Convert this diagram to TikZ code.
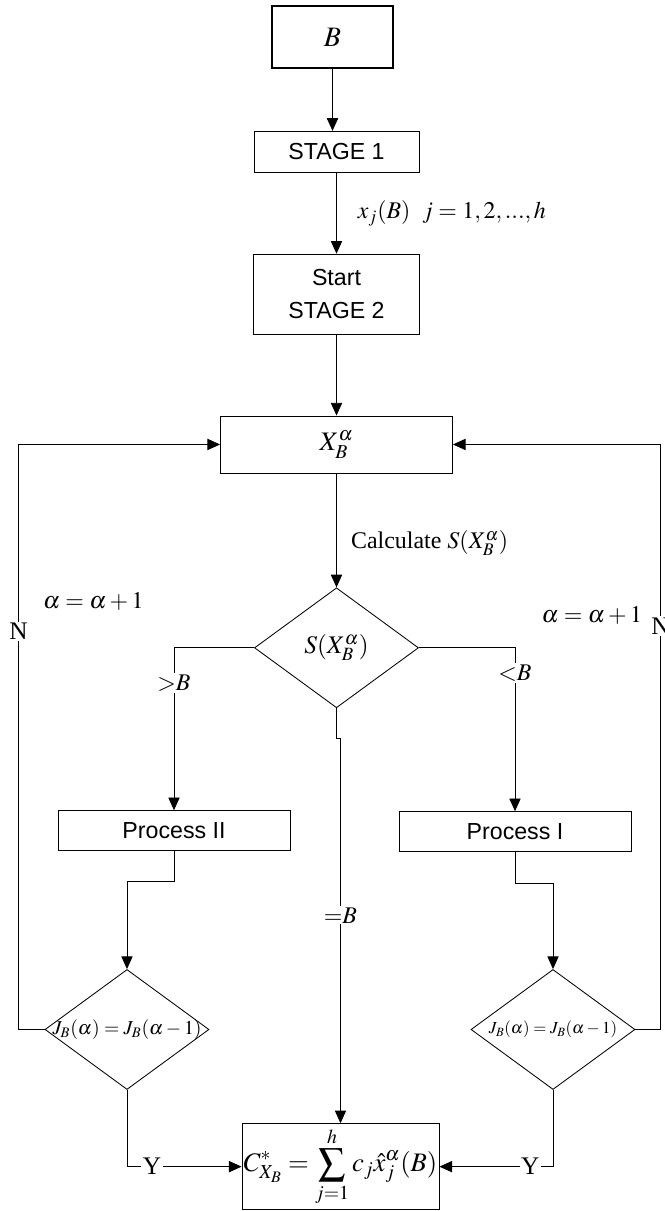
\documentclass[tikz,border=0pt]{standalone}
\usepackage{amsmath}
\usepackage{mathptmx}
\usepackage[no-math]{fontspec}
\setmainfont{Liberation Serif}
\newfontfamily\arialfont{Liberation Sans}
\usetikzlibrary{arrows.meta, shapes.geometric, positioning}

\begin{document}
\begin{tikzpicture}[node distance=1.5cm,
  every node/.style={text=black},
  arr/.style={-{Triangle[length=9pt, width=8pt]}, line width=0.6pt, draw=black},
  procblock/.style={draw, line width=0.6pt, minimum width=4.125cm,
                    minimum height=1.025cm, align=center, inner sep=0pt,
                    font=\arialfont\fontsize{16.5}{19}\selectfont},
  decblock/.style={draw, diamond, line width=0.6pt, minimum width=4.1cm,
                   minimum height=3cm, inner sep=0pt, aspect=1.37},
  cutlbl/.style={fill=white, inner sep=1pt, font=\fontsize{17}{20}\selectfont},
  mathlbl/.style={inner sep=1pt, font=\fontsize{17}{20}\selectfont}]

  \useasboundingbox (-8.3125,0.925) rectangle (8.3125,-29.35);

  %% ═══════════════════════════════════════════════════════════════
  %% STAGE 1 / STAGE 2 COLUMN
  %% ═══════════════════════════════════════════════════════════════

  \node[procblock, line width=1.2pt, minimum width=3.025cm, minimum height=1.55cm,
        font=\fontsize{20}{22}\selectfont] (inB) at (0,0) {$B$};
  \node[procblock, below=1.55cm of inB, xshift=0.1cm] (stage1) {STAGE 1};
  \node[procblock, minimum width=4.15cm, minimum height=2cm, below=2.025cm of stage1]
      (start2) {Start\\[4pt]STAGE 2};
  \node[procblock, minimum width=5.8cm, minimum height=1.425cm, below=2.025cm of start2,
        font=\fontsize{19}{22}\selectfont] (xb) {$X_B^{\alpha}$};

  \draw[arr] (inB) -- (inB |- stage1.north);
  \draw[arr] (stage1) -- (start2)
      node[mathlbl, midway, anchor=west, xshift=0.49cm] {$x_j(B)\ \ j=1,2,...,h$};
  \draw[arr] (start2) -- (xb);

  %% ═══════════════════════════════════════════════════════════════
  %% TEST S(X) AND THE TWO PROCESSES
  %% ═══════════════════════════════════════════════════════════════

  \node[decblock, below=2.85cm of xb, font=\fontsize{18}{20}\selectfont]
      (dec) {$S(X_B^{\alpha})$};
  \node[procblock, minimum width=5.8cm, minimum height=1cm, below=2.55cm of dec,
        xshift=-4.0625cm] (proc2) {Process II};
  \node[procblock, minimum width=5.8cm, minimum height=1cm, below=2.575cm of dec,
        xshift=4.4625cm] (proc1) {Process I};

  \draw[arr] (xb) -- (dec)
      node[mathlbl, pos=0.614, anchor=west, xshift=0.32cm] {Calculate $S(X_B^{\alpha})$};
  \draw[arr] (dec.west) -| (proc2.north) node[cutlbl, pos=0.608] {${>}B$};
  \draw[arr] (dec.east) -| (proc1.north) node[cutlbl, pos=0.577] {${<}B$};

  %% ═══════════════════════════════════════════════════════════════
  %% CONVERGENCE CHECKS AND RESULT
  %% ═══════════════════════════════════════════════════════════════

  \node[decblock, below=2.95cm of proc2, xshift=-1.175cm,
        label={[font=\fontsize{14}{16}\selectfont]center:$J_B(\alpha)=J_B(\alpha-1)$}] (chk2) {};
  \node[decblock, below=2.925cm of proc1, xshift=0.95cm,
        label={[font=\fontsize{12}{14}\selectfont]center:$J_B(\alpha)=J_B(\alpha-1)$}] (chk1) {};
  \node[procblock, minimum width=4.925cm, minimum height=2.15cm, below=10.375cm of dec,
        xshift=0.1cm, font=\fontsize{19}{22}\selectfont]
      (result) {$\displaystyle C^{*}_{X_B}=\sum_{j=1}^{h}c_j\hat{x}_j^{\alpha}(B)$};

  \coordinate[below=0.75cm of dec.south] (jog);
  \draw[arr] (dec.south) -- (jog) -| (result.north) node[cutlbl, pos=0.73] {${=}B$};

  \draw[arr] (proc2.south) -- ++(0,-0.75) -| (chk2.north);
  \draw[arr] (proc1.south) -- ++(0,-0.775) -| (chk1.north);

  \draw[arr] (chk2.west) -- ++(-0.65,0) |- (xb.west)
      node[cutlbl, pos=0.34, font=\fontsize{18}{20}\selectfont] {N}
      node[mathlbl, pos=0.366, anchor=west, xshift=0.565cm] {$\alpha=\alpha+1$};
  \draw[arr] (chk1.east) -- ++(0.625,0) |- (xb.east)
      node[cutlbl, pos=0.345, font=\fontsize{18}{20}\selectfont] {N}
      node[mathlbl, pos=0.354, anchor=east, xshift=-0.415cm] {$\alpha=\alpha+1$};

  \draw[arr] (chk2.south) |- (result.west)
      node[cutlbl, pos=0.609, font=\fontsize{18}{20}\selectfont] {Y};
  \draw[arr] (chk1.south) |- (result.east)
      node[cutlbl, pos=0.6, font=\fontsize{18}{20}\selectfont] {Y};

\end{tikzpicture}
\end{document}
